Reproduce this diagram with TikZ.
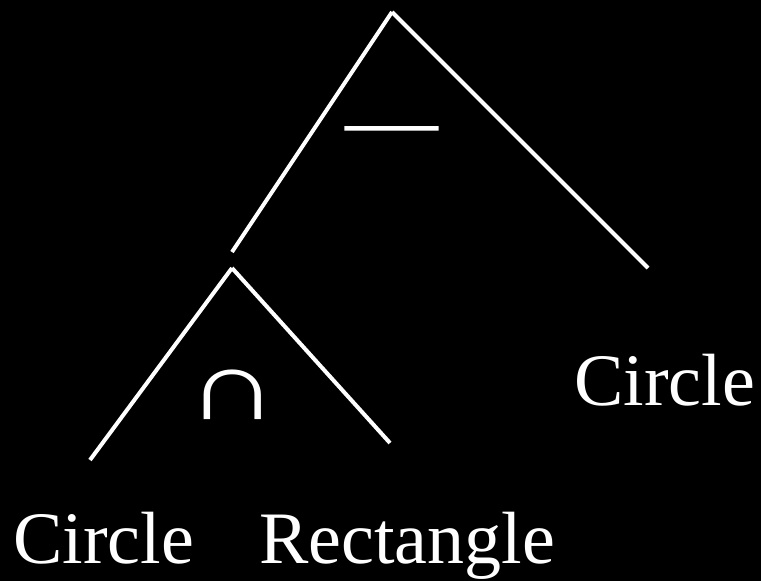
\documentclass[tikz,border=0pt]{standalone}
\usepackage{fontspec}
\setmainfont{Liberation Serif}
\begin{document}
\begin{tikzpicture}[x=1pt,y=-1pt,
  edge/.style={draw=white,line width=4pt},
  lbl/.style={text=white,inner sep=0pt,anchor=base west,font=\fontsize{74}{80}\selectfont},
  op/.style={text=white,inner sep=0pt,anchor=base}]
\fill[black] (0,0) rectangle (761,581);
\useasboundingbox (0,0) rectangle (761,581);
\coordinate (r) at (392,12);
\coordinate (rl) at (232,252);
\coordinate (rr) at (648,268);
\coordinate (s) at (232,268);
\coordinate (sl) at (90,460);
\coordinate (sr) at (390,443);
\draw[edge] (r) -- (rl);
\draw[edge] (r) -- (rr);
\draw[edge] (s) -- (sl);
\draw[edge] (s) -- (sr);
\node[op,font=\fontsize{93}{100}\selectfont] (minus) at (391.5,150) {—};
\node[op,font=\fontsize{80}{90}\selectfont,transform shape,xscale=1.6,yscale=1.23] (cap) at (232.5,419) {∩};
\node[lbl] (c1) at (574,405) {Circle};
\node[lbl] (c2) at (13,563) {Circle};
\node[lbl] (rect) at (259,563) {Rectangle};
\end{tikzpicture}
\end{document}
